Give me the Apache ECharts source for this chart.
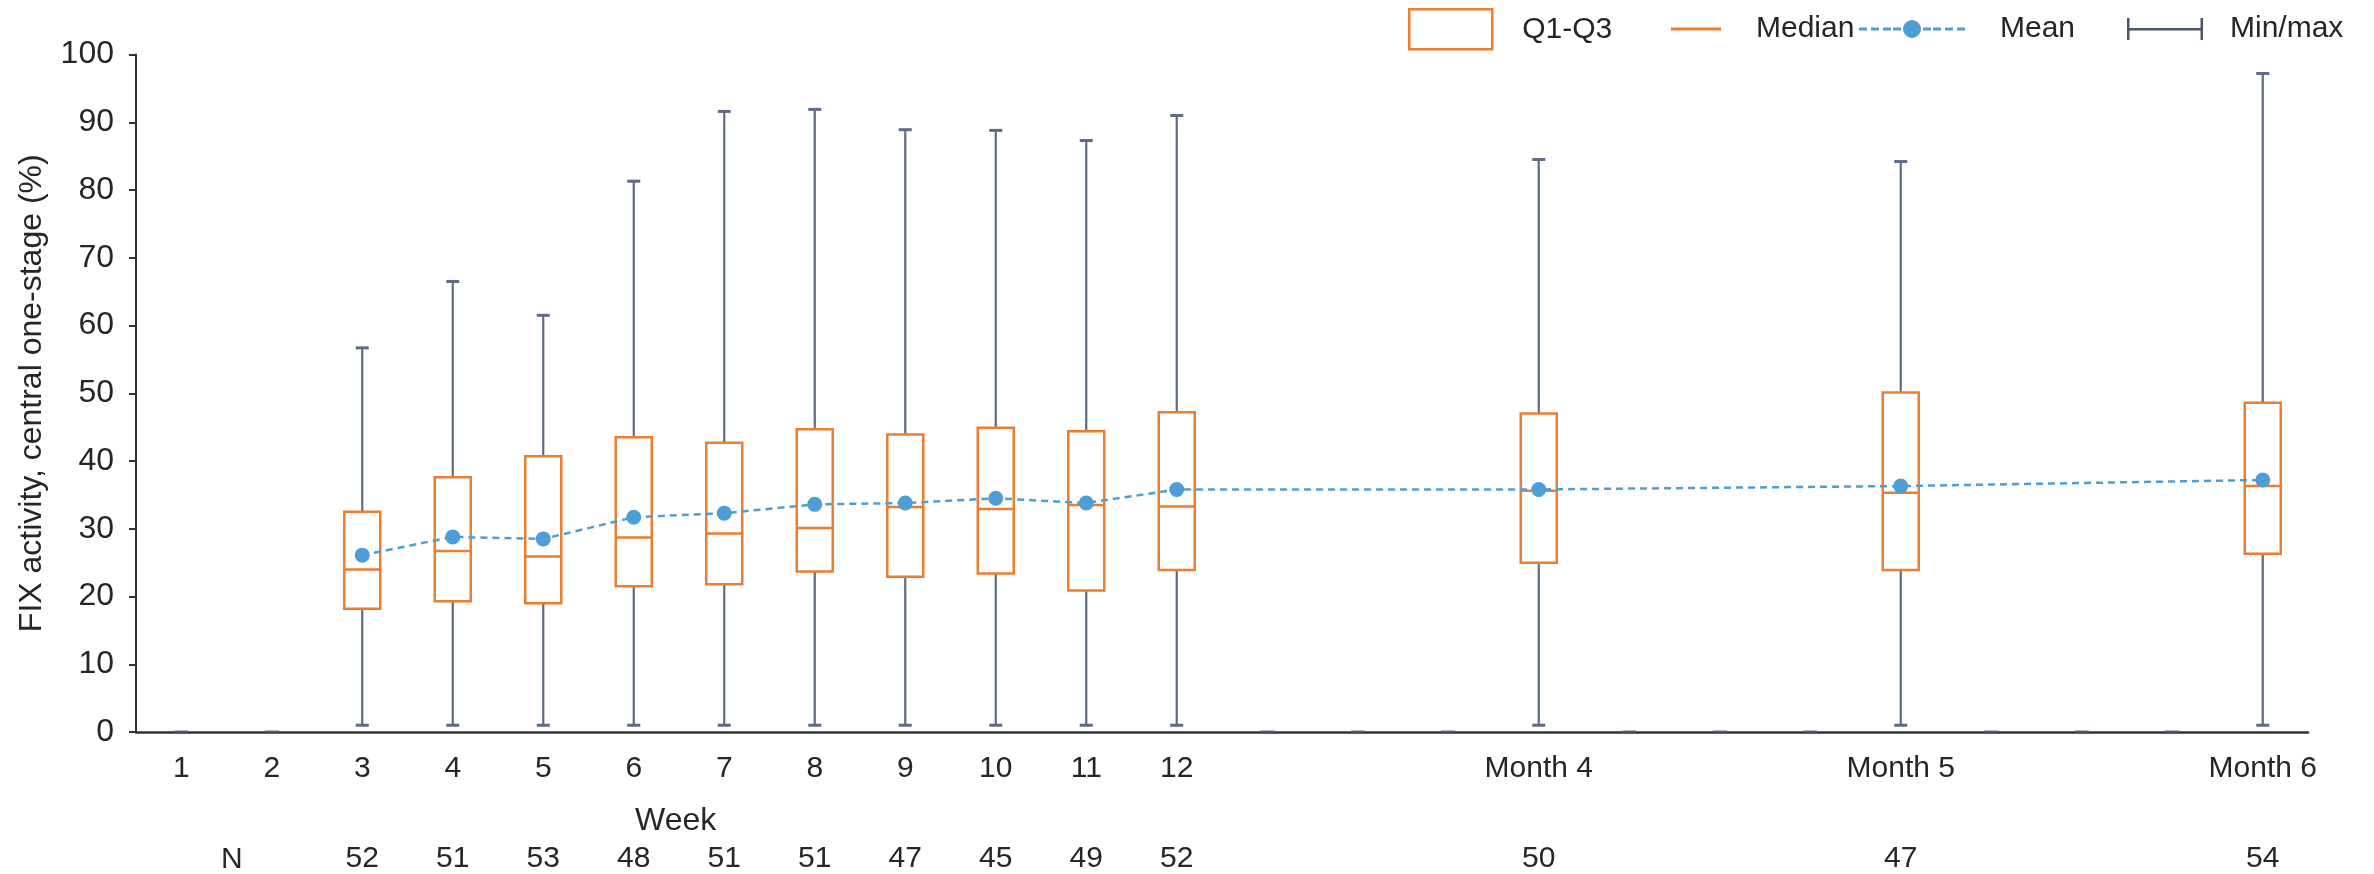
<!DOCTYPE html>
<html>
<head>
<meta charset="utf-8">
<script src="https://cdn.jsdelivr.net/npm/echarts@6/dist/echarts.min.js"></script>
<style>html,body{margin:0;padding:0;background:#fff}#c{width:2374px;height:874px}</style>
</head>
<body>
<div id="c"></div>
<script>
// ---- data ----
const categories = ['1','2','3','4','5','6','7','8','9','10','11','12','','','','Month 4','','','','Month 5','','','','Month 6'];
const statCats = ['3','4','5','6','7','8','9','10','11','12','Month 4','Month 5','Month 6'];
const minVals  = [1, 1, 1, 1, 1, 1, 1, 1, 1, 1, 1, 1, 1];
const q1Vals   = [18.2, 19.3, 19.0, 21.5, 21.8, 23.7, 22.9, 23.4, 20.9, 23.9, 25.0, 23.9, 26.3];
const medVals  = [24.0, 26.7, 25.9, 28.7, 29.3, 30.1, 33.2, 32.9, 33.5, 33.3, 35.6, 35.3, 36.3];
const q3Vals   = [32.5, 37.6, 40.7, 43.5, 42.7, 44.7, 43.9, 44.9, 44.4, 47.2, 47.0, 50.1, 48.6];
const maxVals  = [56.7, 66.5, 61.5, 81.3, 91.6, 91.9, 88.9, 88.8, 87.3, 91.0, 84.5, 84.2, 97.2];
const meanVals = [26.1, 28.8, 28.5, 31.7, 32.3, 33.6, 33.8, 34.5, 33.8, 35.8, 35.8, 36.3, 37.2];
const nVals    = [52, 51, 53, 48, 51, 51, 47, 45, 49, 52, 50, 47, 54];
const yTicks = {min: 0, max: 100, interval: 10};

// ---- build ----
const catIdx = statCats.map(c => categories.indexOf(c));
const whiskerData = catIdx.map((ci, i) => [ci, minVals[i], maxVals[i]]);
const boxData = catIdx.map((ci, i) => [ci, q1Vals[i], q3Vals[i]]);
const medData = catIdx.map((ci, i) => [ci, medVals[i]]);
const meanSeries = categories.map(() => null);
catIdx.forEach((ci, i) => { meanSeries[ci] = meanVals[i]; });
const nLabels = categories.map(() => '');
catIdx.forEach((ci, i) => { nLabels[ci] = String(nVals[i]); });
const emptyMarks = categories.map((c, i) => i).filter(i => catIdx.indexOf(i) < 0).map(i => [i, 0]);

const ORANGE = '#ed7d31', BLUE = '#4e9ed6', SLATE = '#5d6b87', TXT = '#262626';
const FONT = "'Liberation Sans', Arial, sans-serif";
const FS = 30, FSY = 32;

const chart = echarts.init(document.getElementById('c'));
function legendBase(left, top, name, icon, w, h, pad, extra) {
  return {
    left: left, top: top, padding: 0, itemWidth: w, itemHeight: h,
    selectedMode: false,
    textStyle: {fontFamily: FONT, fontSize: FS, color: TXT, padding: [0, 0, 0, pad]},
    data: [Object.assign({name: name, icon: icon}, extra)]
  };
}
const option = {
  animation: false,
  backgroundColor: '#fff',
  textStyle: {fontFamily: FONT},
  grid: {left: 136, right: 66, top: 54.5, bottom: 140, containLabel: false},
  legend: [
    legendBase(1408, 8, 'Q1-Q3', 'rect', 83, 40, 25, {itemStyle: {color: '#fff', borderColor: ORANGE, borderWidth: 2.5}}),
    legendBase(1671, 14, 'Median', 'path://M0,0 H50 V3 H0 Z', 50, 40, 30, {itemStyle: {color: ORANGE}}),
    legendBase(1859, 14, 'Mean', 'path://M0,7.5 h8 v3 h-8 Z M12,7.5 h8 v3 h-8 Z M24,7.5 h8 v3 h-8 Z M34,7.5 h8 v3 h-8 Z M44,9 A9,9 0 1,0 62,9 A9,9 0 1,0 44,9 Z M64,7.5 h8 v3 h-8 Z M74,7.5 h8 v3 h-8 Z M86,7.5 h8 v3 h-8 Z M98,7.5 h8 v3 h-8 Z', 106, 40, 30, {itemStyle: {color: BLUE}}),
    legendBase(2127, 14, 'Min/max', 'path://M0,0 h2.5 v22 h-2.5 Z M2.5,10 h71 v2.5 h-71 Z M73.5,0 h2.5 v22 h-2.5 Z', 76, 40, 22, {itemStyle: {color: '#4b566b'}})
  ],
  xAxis: [{
    type: 'category', data: categories, boundaryGap: true,
    axisLine: {lineStyle: {color: '#333', width: 2.5}},
    axisTick: {show: false},
    axisLabel: {interval: 0, margin: 22, fontSize: FS, color: TXT, fontFamily: FONT},
    splitLine: {show: false}
  }, {
    type: 'category', data: nLabels, position: 'bottom', offset: 90, gridIndex: 0,
    axisLine: {show: false}, axisTick: {show: false},
    axisLabel: {interval: 0, margin: 22, fontSize: FS, color: TXT, fontFamily: FONT},
    splitLine: {show: false}
  }],
  yAxis: {
    type: 'value', min: yTicks.min, max: yTicks.max, interval: yTicks.interval,
    name: 'FIX activity, central one-stage (%)', nameLocation: 'middle', nameGap: 88,
    nameTextStyle: {fontSize: FSY, color: TXT, fontFamily: FONT},
    axisLine: {show: true, lineStyle: {color: '#333', width: 2}},
    axisTick: {show: true, length: 7, lineStyle: {color: '#333', width: 2}},
    axisLabel: {margin: 22, fontSize: FSY, color: TXT, fontFamily: FONT},
    splitLine: {show: false}
  },
  graphic: [
    {type: 'text', left: 674 - 39, top: 823 - 18, style: {text: 'Week', fontSize: FSY, fill: TXT, fontFamily: FONT}},
    {type: 'text', left: 232 - 11, top: 862 - 17, style: {text: 'N', fontSize: FS, fill: TXT, fontFamily: FONT}}
  ],
  series: [
    {
      name: 'Min/max', type: 'custom', z: 2, data: whiskerData, encode: {x: 0, y: [1, 2]},
      itemStyle: {color: SLATE},
      renderItem: function (params, api) {
        const x = api.value(0);
        const pMin = api.coord([x, api.value(1)]);
        const pMax = api.coord([x, api.value(2)]);
        const cw = 6.5;
        const st = {stroke: SLATE, lineWidth: 2.2, fill: null};
        return {type: 'group', children: [
          {type: 'line', shape: {x1: pMin[0], y1: pMin[1], x2: pMax[0], y2: pMax[1]}, style: st},
          {type: 'line', shape: {x1: pMin[0] - cw, y1: pMin[1], x2: pMin[0] + cw, y2: pMin[1]}, style: {stroke: SLATE, lineWidth: 3}},
          {type: 'line', shape: {x1: pMax[0] - cw, y1: pMax[1], x2: pMax[0] + cw, y2: pMax[1]}, style: {stroke: SLATE, lineWidth: 3}}
        ]};
      }
    },
    {
      name: 'Q1-Q3', type: 'custom', z: 3, data: boxData, encode: {x: 0, y: [1, 2]},
      itemStyle: {color: ORANGE},
      renderItem: function (params, api) {
        const x = api.value(0);
        const a = api.coord([x, api.value(1)]);
        const b = api.coord([x, api.value(2)]);
        const w = 36;
        return {type: 'rect', shape: {x: a[0] - w / 2, y: b[1], width: w, height: a[1] - b[1]},
          style: {fill: '#fff', stroke: ORANGE, lineWidth: 2.5}};
      }
    },
    {
      name: 'Median', type: 'custom', z: 4, data: medData, encode: {x: 0, y: 1},
      itemStyle: {color: ORANGE},
      renderItem: function (params, api) {
        const p = api.coord([api.value(0), api.value(1)]);
        const w = 36;
        return {type: 'line', shape: {x1: p[0] - w / 2, y1: p[1], x2: p[0] + w / 2, y2: p[1]},
          style: {stroke: ORANGE, lineWidth: 2.5}};
      }
    },
    {
      name: 'Mean', type: 'line', z: 5, data: meanSeries, connectNulls: true,
      symbol: 'circle', symbolSize: 15, showSymbol: true,
      itemStyle: {color: BLUE},
      lineStyle: {color: BLUE, width: 2.5, type: [7, 5]}
    },
    {
      type: 'scatter', z: 6, data: emptyMarks, symbol: 'rect', symbolSize: [14, 3],
      itemStyle: {color: '#4b566b'}, silent: true
    }
  ]
};
chart.setOption(option);
</script>
</body>
</html>
